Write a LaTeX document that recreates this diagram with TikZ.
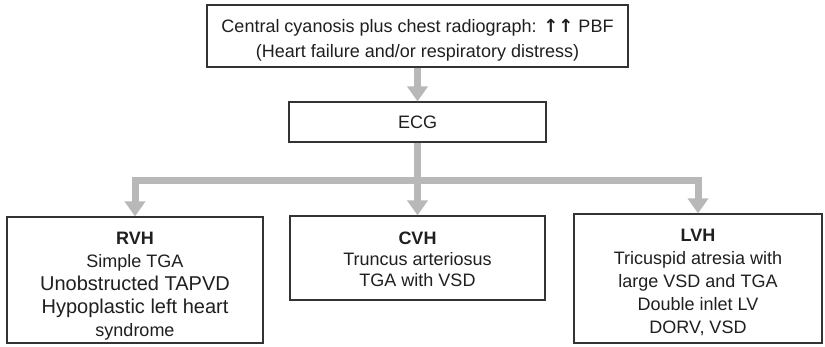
\documentclass[tikz,border=0pt]{standalone}
\usepackage{fontspec}
\setmainfont{Liberation Sans}
\newfontfamily\arrowfont{DejaVu Sans}
\usetikzlibrary{arrows.meta}
\begin{document}
\begin{tikzpicture}[x=1pt,y=-1pt,
  box/.style={draw=black!80, line width=1.2pt, fill=white, inner sep=0pt,
    align=center, text=black!88, font=\fontsize{18}{23}\selectfont},
  conn/.style={draw=black!28, line width=7pt, line join=miter},
  arr/.style={conn, -{Triangle[width=20pt,length=15pt]}}]
\useasboundingbox (0,0) rectangle (825,346);
\node[box, minimum width=421pt, minimum height=62pt, font=\fontsize{18}{25}\selectfont] (top) at (417.5,36)
  {\rule{0pt}{21pt}Central cyanosis plus chest radiograph: {\arrowfont\bfseries ↑↑} PBF\\(Heart failure and/or respiratory distress)};
\node[box, minimum width=257pt, minimum height=40pt] (ecg) at (417.5,122) {ECG};
\node[box, minimum width=256pt, minimum height=126pt] (rvh) at (135,280)
  {\rule{0pt}{25pt}\textbf{RVH}\\\fontsize{18}{23}\selectfont Simple TGA\\\fontsize{20}{23}\selectfont Unobstructed TAPVD\\\fontsize{20}{23}\selectfont Hypoplastic left heart\\\fontsize{18}{23}\selectfont syndrome};
\node[box, minimum width=255pt, minimum height=84pt, font=\fontsize{18}{21}\selectfont] (cvh) at (417.5,258)
  {\rule{0pt}{16pt}\textbf{CVH}\\Truncus arteriosus\\TGA with VSD};
\node[box, minimum width=248pt, minimum height=129pt] (lvh) at (698,278.5)
  {\rule{0pt}{21pt}\textbf{LVH}\\Tricuspid atresia with\\large VSD and TGA\\Double inlet LV\\DORV, VSD};
\coordinate (j) at (417.5,180);
\draw[arr] (top.south) -- (ecg.north);
\draw[conn] (ecg.south) -- (j);
\draw[arr] (j) -| (rvh.north);
\draw[arr] (j) -| (lvh.north);
\draw[arr] (j) -- (cvh.north);
\end{tikzpicture}
\end{document}
